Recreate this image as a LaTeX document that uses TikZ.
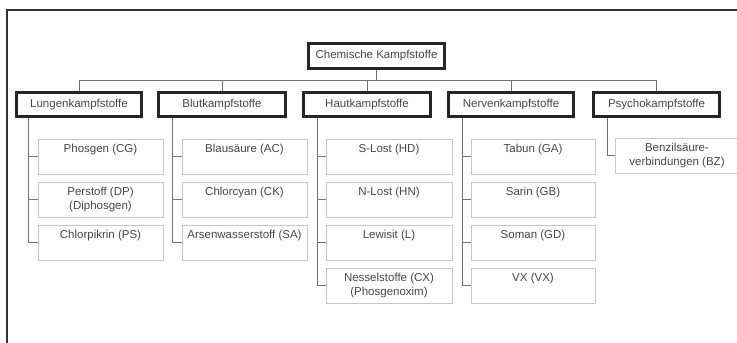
\documentclass[tikz,border=0pt]{standalone}
\usepackage{fontspec}
\setmainfont{Liberation Sans}
\begin{document}
\begin{tikzpicture}[x=1pt,y=-1pt,
  txt/.style={font=\fontsize{11.5}{14.5}\selectfont, text=black!72},
  rootbox/.style={txt, draw=black!85, line width=2.8pt, fill=white, inner sep=0pt, minimum width=136pt, minimum height=25pt},
  catbox/.style={txt, draw=black!85, line width=2.8pt, fill=white, inner sep=0pt, minimum height=24pt},
  childbox/.style={draw=black!22, line width=0.8pt, fill=white, minimum height=35pt, inner sep=0pt},
  childtxt/.style={txt, anchor=north, align=center, inner sep=0pt},
  conn/.style={draw=black!55, line width=0.9pt},
  frame/.style={draw=black!80, line width=1.1pt}]
\useasboundingbox (0,0) rectangle (737,343);
\fill[white] (0,0) rectangle (737,343);

% outer frame (top and left edges)
\draw[frame] (7,343) -- (7,10) -- (737,10);

% root and categories
\node[rootbox] (root) at (376.5,56) {Chemische Kampfstoffe};
\node[catbox, minimum width=125pt] (L) at (79,104.5) {Lungenkampfstoffe};
\node[catbox, minimum width=127pt] (B) at (222,104.5) {Blutkampfstoffe};
\node[catbox, minimum width=127pt] (H) at (367,104.5) {Hautkampfstoffe};
\node[catbox, minimum width=125pt] (N) at (511,104.5) {Nervenkampfstoffe};
\node[catbox, minimum width=126pt] (P) at (656.5,104.5) {Psychokampfstoffe};

% bus connecting root with categories
\coordinate (bus) at (0,80);
\draw[conn] (root.south) -- (root.south |- bus);
\draw[conn] (L.north) -- (L.north |- bus) -- (P.north |- bus) -- (P.north);
\draw[conn] (B.north) -- (B.north |- bus);
\draw[conn] (H.north) -- (H.north |- bus);
\draw[conn] (N.north) -- (N.north |- bus);

% child boxes
\foreach \nm/\cx/\w in {l/100.5/125, b/244.5/125, h/389/126, n/533/124}{
  \node[childbox, minimum width=\w pt] (\nm1) at (\cx,156.5) {};
  \node[childbox, minimum width=\w pt] (\nm2) at (\cx,199.5) {};
  \node[childbox, minimum width=\w pt] (\nm3) at (\cx,242.5) {};
}
\node[childbox, minimum width=126pt] (h4) at (389,285.5) {};
\node[childbox, minimum width=124pt] (n4) at (533,285.5) {};
\node[childbox, minimum width=124pt] (p1) at (677,155.5) {};

% child labels
\node[childtxt] (l1t) at ([yshift=-5pt]l1.north) {Phosgen (CG)};
\node[childtxt] (l2t) at ([yshift=-5pt]l2.north) {Perstoff (DP)\\(Diphosgen)};
\node[childtxt] (l3t) at ([yshift=-5pt]l3.north) {Chlorpikrin (PS)};
\node[childtxt] (b1t) at ([yshift=-5pt]b1.north) {Blausäure (AC)};
\node[childtxt] (b2t) at ([yshift=-5pt]b2.north) {Chlorcyan (CK)};
\node[childtxt] (b3t) at ([yshift=-5pt]b3.north) {Arsenwasserstoff (SA)};
\node[childtxt] (h1t) at ([yshift=-5pt]h1.north) {S-Lost (HD)};
\node[childtxt] (h2t) at ([yshift=-5pt]h2.north) {N-Lost (HN)};
\node[childtxt] (h3t) at ([yshift=-5pt]h3.north) {Lewisit (L)};
\node[childtxt] (h4t) at ([yshift=-5pt]h4.north) {Nesselstoffe (CX)\\(Phosgenoxim)};
\node[childtxt] (n1t) at ([yshift=-5pt]n1.north) {Tabun (GA)};
\node[childtxt] (n2t) at ([yshift=-5pt]n2.north) {Sarin (GB)};
\node[childtxt] (n3t) at ([yshift=-5pt]n3.north) {Soman (GD)};
\node[childtxt] (n4t) at ([yshift=-5pt]n4.north) {VX (VX)};
\node[childtxt] (p1t) at ([yshift=-5pt]p1.north) {Benzilsäure-\\verbindungen (BZ)};

% vertical spines with ticks to each child
\coordinate (lx) at (28.5,118);
\coordinate (bx) at (172,118);
\coordinate (hx) at (317,118);
\coordinate (nx) at (462,118);
\coordinate (px) at (607,118);
\draw[conn] (lx) |- (l3.west);
\draw[conn] (l1.west) -- (l1.west -| lx);
\draw[conn] (l2.west) -- (l2.west -| lx);
\draw[conn] (bx) |- (b3.west);
\draw[conn] (b1.west) -- (b1.west -| bx);
\draw[conn] (b2.west) -- (b2.west -| bx);
\draw[conn] (hx) |- (h4.west);
\draw[conn] (h1.west) -- (h1.west -| hx);
\draw[conn] (h2.west) -- (h2.west -| hx);
\draw[conn] (h3.west) -- (h3.west -| hx);
\draw[conn] (nx) |- (n4.west);
\draw[conn] (n1.west) -- (n1.west -| nx);
\draw[conn] (n2.west) -- (n2.west -| nx);
\draw[conn] (n3.west) -- (n3.west -| nx);
\draw[conn] (px) |- (p1.west);
\end{tikzpicture}
\end{document}
